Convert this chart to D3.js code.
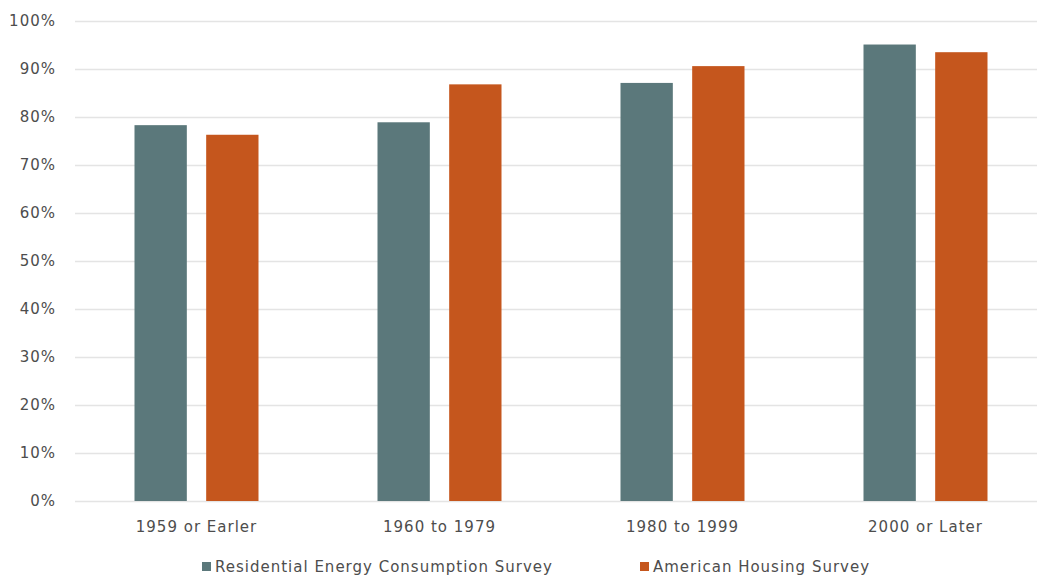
<!DOCTYPE html>
<html>
<head>
<meta charset="utf-8">
<script src="https://cdn.jsdelivr.net/npm/d3@7"></script>
<style>
  html, body { margin: 0; padding: 0; background: #fff; }
  svg { display: block; font-family: "DejaVu Sans", Lato, sans-serif; }
</style>
</head>
<body>
<svg id="chart" width="1037" height="577"></svg>
<script>
// Share of homes by construction period, two surveys
const categories = ["1959 or Earler", "1960 to 1979", "1980 to 1999", "2000 or Later"];
const recsValues = [78.3, 78.9, 87.1, 95.1];
const ahsValues  = [76.3, 86.8, 90.6, 93.5];
const seriesNames = ["Residential Energy Consumption Survey", "American Housing Survey"];
const seriesColors = ["#5b787b", "#c5561d"];
const yTicks = [0, 10, 20, 30, 40, 50, 60, 70, 80, 90, 100];

const series = [recsValues, ahsValues];
const rows = categories.map((c, i) => ({ cat: c, vals: series.map(s => s[i]) }));

const svg = d3.select("#chart");
const plot = { left: 75, right: 1047, top: 21, bottom: 501 };
const textColor = "#4d4d4d";
const fontSize = 15;
const spacing = "1px";

const x = d3.scaleBand().domain(categories).range([plot.left, plot.right]).padding(0);
const xInner = d3.scaleBand().domain([0, 1]).range([-62, 62]).paddingInner(0.27).paddingOuter(0);
const y = d3.scaleLinear().domain([0, 100]).range([plot.bottom, plot.top]);

// horizontal gridlines with percent labels
const yAxis = d3.axisLeft(y).tickValues(yTicks).tickFormat(d => d + "%")
  .tickSize(-(1037 - plot.left)).tickPadding(19);
const gy = svg.append("g").attr("transform", `translate(${plot.left},0)`).call(yAxis);
gy.select(".domain").remove();
gy.selectAll(".tick line").attr("stroke", "#e4e4e4").attr("stroke-width", 1.5);
gy.selectAll(".tick text").attr("fill", textColor).attr("font-size", fontSize)
  .attr("font-family", "DejaVu Sans").attr("letter-spacing", spacing);

// bars
const groups = svg.append("g").selectAll("g").data(rows).join("g")
  .attr("transform", d => `translate(${x(d.cat) + x.bandwidth() / 2},0)`);
groups.selectAll("rect").data(d => d.vals.map((v, k) => ({ v, k }))).join("rect")
  .attr("x", d => xInner(d.k))
  .attr("width", xInner.bandwidth())
  .attr("y", d => y(d.v))
  .attr("height", d => y(0) - y(d.v))
  .attr("fill", d => seriesColors[d.k]);

// category labels
const xAxis = d3.axisBottom(x).tickSize(0).tickPadding(20);
const gx = svg.append("g").attr("transform", `translate(0,${plot.bottom})`).call(xAxis);
gx.select(".domain").remove();
gx.selectAll(".tick text").attr("fill", textColor).attr("font-size", fontSize)
  .attr("font-family", "DejaVu Sans").attr("letter-spacing", spacing);

// legend
const legendX = [202, 640];
const legend = svg.append("g").selectAll("g").data(seriesNames).join("g")
  .attr("transform", (d, i) => `translate(${legendX[i]},572)`);
legend.append("rect").attr("x", 0).attr("y", -10).attr("width", 9).attr("height", 9)
  .attr("fill", (d, i) => seriesColors[i]);
legend.append("text").attr("x", 13).attr("y", 0).text(d => d)
  .attr("fill", textColor).attr("font-size", fontSize).attr("letter-spacing", spacing);
</script>
</body>
</html>
